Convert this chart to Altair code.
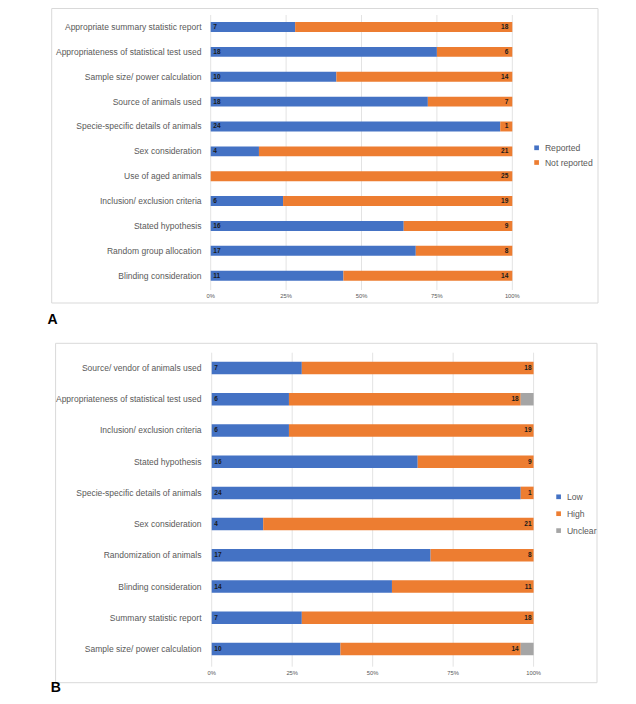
import altair as alt
import pandas as pd

# ---------------- data ----------------
a_cats = ["Appropriate summary statistic report", "Appropriateness of statistical test used",
          "Sample size/ power calculation", "Source of animals used",
          "Specie-specific details of animals", "Sex consideration", "Use of aged animals",
          "Inclusion/ exclusion criteria", "Stated hypothesis", "Random group allocation",
          "Blinding consideration"]
a_series = ["Reported", "Not reported"]
a_reported = [7, 18, 10, 18, 24, 4, 0, 6, 16, 17, 11]
a_not_reported = [18, 6, 14, 7, 1, 21, 25, 19, 9, 8, 14]

b_cats = ["Source/ vendor of animals used", "Appropriateness of statistical test used",
          "Inclusion/ exclusion criteria", "Stated hypothesis",
          "Specie-specific details of animals", "Sex consideration",
          "Randomization of animals", "Blinding consideration", "Summary statistic report",
          "Sample size/ power calculation"]
b_series = ["Low", "High", "Unclear"]
b_low = [7, 6, 6, 16, 24, 4, 17, 14, 7, 10]
b_high = [18, 18, 19, 9, 1, 21, 8, 11, 18, 14]
b_unclear = [0, 1, 0, 0, 0, 0, 0, 0, 0, 1]

ticks = [0, 0.25, 0.5, 0.75, 1]
tick_labels = ["0%", "25%", "50%", "75%", "100%"]

BLUE, ORANGE, GREY = "#4472C4", "#ED7D31", "#A5A5A5"
FONT = "Liberation Sans"
LABEL_COLOR = "#595959"


def segments(cats, names, series):
    rows = []
    for i, c in enumerate(cats):
        vals = [s[i] for s in series]
        tot = sum(vals)
        cum = 0
        for k, (n, v) in enumerate(zip(names, vals)):
            rows.append(dict(cat=c, series=n, value=v, k=k,
                             start=cum / tot, end=(cum + v) / tot))
            cum += v
    return pd.DataFrame(rows)


def panel(cats, names, series, colors, xr, yr, grid_y, tick_y, frame, letter, letter_pos,
          legend_xy, legend_pad, right_dx):
    seg = segments(cats, names, series)
    seg = seg[seg["value"] > 0]
    xs = alt.Scale(domain=[0, 1], range=xr, nice=False, zero=False)
    ys = alt.Scale(domain=cats, range=yr, paddingInner=0.6, paddingOuter=0.3)
    cs = alt.Scale(domain=names, range=colors)

    frame_df = pd.DataFrame({"f": [1]})
    fr = alt.Chart(frame_df).mark_rect(fillOpacity=0, stroke="#d9d9d9", strokeWidth=1).encode(
        x=alt.value(frame[0]), x2=alt.value(frame[1]), y=alt.value(frame[2]), y2=alt.value(frame[3]))

    tdf = pd.DataFrame({"t": ticks, "lab": tick_labels})
    grid = alt.Chart(tdf).mark_rule(color="#e3e3e3", strokeWidth=1).encode(
        x=alt.X("t:Q", scale=xs, axis=None), y=alt.value(grid_y[0]), y2=alt.value(grid_y[1]))
    tlab = alt.Chart(tdf).mark_text(font=FONT, fontSize=5.8, color=LABEL_COLOR,
                                    align="center", baseline="middle").encode(
        x=alt.X("t:Q", scale=xs, axis=None), y=alt.value(tick_y), text="lab:N")

    bars = alt.Chart(seg).mark_bar().encode(
        x=alt.X("start:Q", scale=xs, axis=None), x2="end:Q",
        y=alt.Y("cat:N", scale=ys, axis=None),
        color=alt.Color("series:N", scale=cs, legend=alt.Legend(
            title=None, orient="none", legendX=legend_xy[0], legendY=legend_xy[1],
            symbolType="square", symbolSize=22, symbolStrokeWidth=0,
            labelFont=FONT, labelFontSize=8.6, labelColor=LABEL_COLOR,
            rowPadding=legend_pad, labelOffset=4, padding=0)))

    left = seg[(seg["k"] == 0)]
    right = seg[(seg["k"] == 1)]
    lt = alt.Chart(left).mark_text(font=FONT, fontSize=6.5, fontWeight="bold", color="#1a1a1a",
                                   align="left", baseline="middle", dx=2.6).encode(
        x=alt.X("start:Q", scale=xs, axis=None), y=alt.Y("cat:N", scale=ys, axis=None),
        text="value:Q")
    rt = alt.Chart(right).mark_text(font=FONT, fontSize=6.5, fontWeight="bold", color="#1a1a1a",
                                    align="right", baseline="middle", dx=right_dx).encode(
        x=alt.X("end:Q", scale=xs, axis=None), y=alt.Y("cat:N", scale=ys, axis=None),
        text="value:Q")

    cdf = pd.DataFrame({"cat": cats})
    ylab = alt.Chart(cdf).mark_text(font=FONT, fontSize=8.5, color=LABEL_COLOR,
                                    align="right", baseline="middle").encode(
        x=alt.value(193.5), y=alt.Y("cat:N", scale=ys, axis=None), text="cat:N")

    ldf = pd.DataFrame({"l": [letter]})
    let = alt.Chart(ldf).mark_text(font=FONT, fontSize=14, fontWeight="bold", color="#000000",
                                   align="left", baseline="middle").encode(
        x=alt.value(letter_pos[0]), y=alt.value(letter_pos[1]), text="l:N")

    return [fr, grid, bars, lt, rt, ylab, tlab, let]


layers_a = panel(a_cats, a_series, [a_reported, a_not_reported], [BLUE, ORANGE],
                 xr=[202.7, 504.3], yr=[6.6, 280.1], grid_y=[7, 282], tick_y=287.7,
                 frame=[43.7, 590, 0.5, 295], letter="A", letter_pos=[39.5, 312],
                 legend_xy=[524.3, 135.5], legend_pad=5.7, right_dx=-4)
layers_b = panel(b_cats, b_series, [b_low, b_high, b_unclear], [BLUE, ORANGE, GREY],
                 xr=[203.7, 525.6], yr=[344.4, 656.6], grid_y=[344.7, 658.7], tick_y=665,
                 frame=[47.6, 589, 335.3, 674.7], letter="B", letter_pos=[42.7, 680],
                 legend_xy=[546.3, 484.5], legend_pad=7.9, right_dx=-2)

chart = alt.layer(*layers_a, *layers_b).resolve_scale(
    x="independent", y="independent", color="independent"
).properties(
    width=620, height=688, autosize=alt.AutoSizeParams(type="none"), padding=0,
    background="white"
).configure_view(stroke=None)

chart.save("out.html", embed_options={"renderer": "svg", "actions": False})
